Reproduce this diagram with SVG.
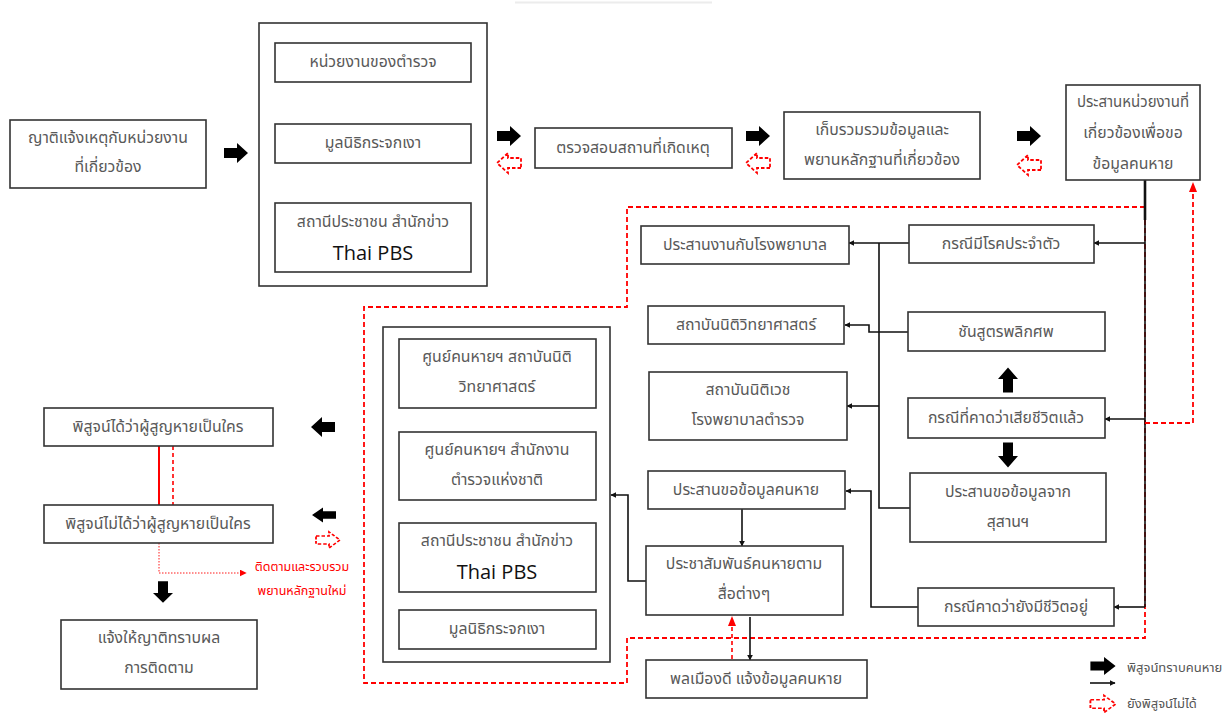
<svg xmlns="http://www.w3.org/2000/svg" width="1229" height="720" viewBox="0 0 1229 720">
<style>
.b{fill:#fff;stroke:#333;stroke-width:1.6}
.t{font-family:"Noto Sans Thai","Noto Sans","DejaVu Sans",sans-serif;font-size:15.8px;fill:#595959;text-anchor:middle;dominant-baseline:central}
.en{font-family:"Open Sans","Noto Sans",sans-serif;font-size:20px;fill:#111;text-anchor:middle;dominant-baseline:central}
.rt{font-family:"Noto Sans Thai","Noto Sans",sans-serif;font-size:12.5px;fill:#f00;text-anchor:middle;dominant-baseline:central}
.lg{font-family:"Noto Sans Thai","Noto Sans",sans-serif;font-size:13px;fill:#555;dominant-baseline:central}
.fk{fill:#000}
.fr{fill:#fff;stroke:#f00;stroke-width:1.8;stroke-dasharray:3.5 2}
.l{fill:none;stroke:#111;stroke-width:1.6}
.la{fill:none;stroke:#111;stroke-width:1.6;marker-end:url(#ah)}
.rd{fill:none;stroke:#f00;stroke-width:1.8;stroke-dasharray:5 3}
</style>
<defs>
<path id="fa" d="M-12,-5 H1 V-10 L12,0 L1,10 V5 H-12 Z"/>
<marker id="ah" viewBox="0 0 10 10" refX="9" refY="5" markerWidth="6" markerHeight="6" orient="auto" markerUnits="userSpaceOnUse"><path d="M0,0 L10,5 L0,10 Z" fill="#111"/></marker>
<marker id="ahr" viewBox="0 0 10 10" refX="9" refY="5" markerWidth="7" markerHeight="7" orient="auto" markerUnits="userSpaceOnUse"><path d="M0,0 L10,5 L0,10 Z" fill="#f00"/></marker>
</defs>
<rect width="1229" height="720" fill="#fff"/>
<line x1="515" y1="2.5" x2="712" y2="2.5" stroke="#ececec" stroke-width="2"/>

<g id="connectors">
<line class="l" x1="374" y1="82" x2="374" y2="124"/>
<line class="l" x1="374" y1="163" x2="374" y2="203"/>
<path class="rd" d="M1145,207 H627 V307 H364 V683 H627 V638 H1145 Z"/>
<line x1="1145" y1="180" x2="1145" y2="220" stroke="#111" stroke-width="2.6"/>
<line class="l" x1="1145" y1="220" x2="1145" y2="607"/>
<path class="rd" d="M1145,423 H1193 V190" />
<path d="M1193,182 L1189,192 L1197,192 Z" fill="#f00"/>
<line class="la" x1="1145" y1="243" x2="1094" y2="243" stroke-width="2.4"/>
<line class="la" x1="1145" y1="419" x2="1105" y2="419"/>
<line class="la" x1="1145" y1="607" x2="1114" y2="607"/>
<line class="la" x1="909" y1="243" x2="849" y2="243"/>
<path class="l" d="M879,243 V508 H910"/>
<line class="la" x1="879" y1="406" x2="847" y2="406"/>
<path class="la" d="M908,332 H869 V325 H845"/>
<path class="la" d="M918,607 H871 V491 H846"/>
<line class="la" x1="742" y1="509" x2="742" y2="546"/>
<path class="la" d="M646,581 H628 V495 H611"/>
<line class="la" x1="750" y1="617" x2="750" y2="660"/>
<line x1="732" y1="659" x2="732" y2="624" stroke="#f00" stroke-width="1.6" stroke-dasharray="4 3"/>
<path d="M732,616 L728,626 L736,626 Z" fill="#f00"/>
<line x1="159" y1="446" x2="159" y2="505" stroke="#f00" stroke-width="2"/>
<line x1="173" y1="446" x2="173" y2="505" stroke="#f00" stroke-width="1.6" stroke-dasharray="4 3"/>
<path d="M159,543 V573 H246" fill="none" stroke="#f00" stroke-width="0.9" stroke-dasharray="1.5 1.5" marker-end="url(#ahr)"/>
</g>

<g id="fat-arrows">
<use href="#fa" class="fk" transform="translate(236,153)"/>
<use href="#fa" class="fk" transform="translate(509,136)"/>
<use href="#fa" class="fr" transform="translate(509,163) rotate(180)"/>
<use href="#fa" class="fk" transform="translate(758,136)"/>
<use href="#fa" class="fr" transform="translate(758,163) rotate(180)"/>
<use href="#fa" class="fk" transform="translate(1029,136)"/>
<use href="#fa" class="fr" transform="translate(1029,165) rotate(180)"/>
<use href="#fa" class="fk" transform="translate(1008,380) rotate(-90) scale(1.05,1)"/>
<use href="#fa" class="fk" transform="translate(1008,455) rotate(90) scale(1.05,1)"/>
<use href="#fa" class="fk" transform="translate(323,427) rotate(180)"/>
<use href="#fa" class="fk" transform="translate(324,515) rotate(180) scale(1,0.75)"/>
<use href="#fa" class="fr" transform="translate(328,540) scale(1,0.8)"/>
<use href="#fa" class="fk" transform="translate(163,592) rotate(90) scale(0.9,1)"/>
</g>

<g id="n1"><rect class="b" x="10" y="120" width="196" height="68"/><text class="t" x="108" y="138">ญาติแจ้งเหตุกับหน่วยงาน</text><text class="t" x="108" y="167">ที่เกี่ยวข้อง</text></g>

<g id="n2"><rect class="b" x="259" y="23" width="228" height="263"/></g>
<g id="n2a"><rect class="b" x="275" y="43" width="196" height="39"/><text class="t" x="373" y="62">หน่วยงานของตำรวจ</text></g>
<g id="n2b"><rect class="b" x="275" y="124" width="196" height="39"/><text class="t" x="373" y="143">มูลนิธิกระจกเงา</text></g>
<g id="n2c"><rect class="b" x="275" y="203" width="196" height="69"/><text class="t" x="373" y="222">สถานีประชาชน สำนักข่าว</text><text class="en" x="373" y="252">Thai PBS</text></g>

<g id="n3"><rect class="b" x="535" y="128" width="197" height="40"/><text class="t" x="633" y="148">ตรวจสอบสถานที่เกิดเหตุ</text></g>
<g id="n4"><rect class="b" x="784" y="112" width="196" height="67"/><text class="t" x="882" y="130">เก็บรวมรวมข้อมูลและ</text><text class="t" x="882" y="160">พยานหลักฐานที่เกี่ยวข้อง</text></g>
<g id="n5"><rect class="b" x="1066" y="85" width="134" height="95"/><text class="t" x="1133" y="102" style="font-size:15px">ประสานหน่วยงานที่</text><text class="t" x="1133" y="133">เกี่ยวข้องเพื่อขอ</text><text class="t" x="1133" y="164">ข้อมูลคนหาย</text></g>

<g id="n6"><rect class="b" x="909" y="225" width="185" height="38"/><text class="t" x="1001" y="244">กรณีมีโรคประจำตัว</text></g>
<g id="n7"><rect class="b" x="641" y="226" width="208" height="38"/><text class="t" x="745" y="245">ประสานงานกับโรงพยาบาล</text></g>
<g id="n8"><rect class="b" x="648" y="306" width="196" height="38"/><text class="t" x="746" y="325">สถาบันนิติวิทยาศาสตร์</text></g>
<g id="n9"><rect class="b" x="908" y="312" width="197" height="39"/><text class="t" x="1006" y="332">ชันสูตรพลิกศพ</text></g>
<g id="n10"><rect class="b" x="649" y="372" width="198" height="68"/><text class="t" x="748" y="390">สถาบันนิติเวช</text><text class="t" x="748" y="420">โรงพยาบาลตำรวจ</text></g>
<g id="n11"><rect class="b" x="908" y="398" width="197" height="40"/><text class="t" x="1006" y="418">กรณีที่คาดว่าเสียชีวิตแล้ว</text></g>
<g id="n12"><rect class="b" x="910" y="473" width="196" height="69"/><text class="t" x="1008" y="492">ประสานขอข้อมูลจาก</text><text class="t" x="1008" y="522">สุสานฯ</text></g>
<g id="n13"><rect class="b" x="648" y="471" width="197" height="38"/><text class="t" x="746" y="490">ประสานขอข้อมูลคนหาย</text></g>
<g id="n14"><rect class="b" x="646" y="546" width="197" height="69"/><text class="t" x="744" y="564">ประชาสัมพันธ์คนหายตาม</text><text class="t" x="744" y="594">สื่อต่างๆ</text></g>
<g id="n15"><rect class="b" x="918" y="588" width="196" height="38"/><text class="t" x="1016" y="607">กรณีคาดว่ายังมีชีวิตอยู่</text></g>
<g id="n16"><rect class="b" x="646" y="660" width="221" height="38"/><text class="t" x="756" y="679">พลเมืองดี แจ้งข้อมูลคนหาย</text></g>

<g id="n17"><rect class="b" x="383" y="327" width="227" height="335"/></g>
<g id="n17a"><rect class="b" x="399" y="339" width="197" height="69"/><text class="t" x="497" y="357">ศูนย์คนหายฯ สถาบันนิติ</text><text class="t" x="497" y="387">วิทยาศาสตร์</text></g>
<g id="n17b"><rect class="b" x="399" y="432" width="197" height="68"/><text class="t" x="497" y="450">ศูนย์คนหายฯ สำนักงาน</text><text class="t" x="497" y="480">ตำรวจแห่งชาติ</text></g>
<g id="n17c"><rect class="b" x="399" y="523" width="197" height="69"/><text class="t" x="497" y="541">สถานีประชาชน สำนักข่าว</text><text class="en" x="497" y="571">Thai PBS</text></g>
<g id="n17d"><rect class="b" x="399" y="610" width="197" height="39"/><text class="t" x="497" y="629">มูลนิธิกระจกเงา</text></g>

<g id="n18"><rect class="b" x="44" y="408" width="229" height="38"/><text class="t" x="158" y="427">พิสูจน์ได้ว่าผู้สูญหายเป็นใคร</text></g>
<g id="n19"><rect class="b" x="44" y="505" width="229" height="38"/><text class="t" x="158" y="524">พิสูจน์ไม่ได้ว่าผู้สูญหายเป็นใคร</text></g>
<g id="n20"><rect class="b" x="61" y="620" width="196" height="69"/><text class="t" x="159" y="638">แจ้งให้ญาติทราบผล</text><text class="t" x="159" y="668">การติดตาม</text></g>
<g id="note"><text class="rt" x="302" y="567">ติดตามและรวบรวม</text><text class="rt" x="302" y="591">พยานหลักฐานใหม่</text></g>

<g id="legend">
<use href="#fa" class="fk" transform="translate(1103,666) scale(1.05,0.9)"/>
<line x1="1090" y1="683" x2="1115" y2="683" stroke="#111" stroke-width="1.6" marker-end="url(#ah)"/>
<use href="#fa" class="fr" transform="translate(1103,704) scale(1.05,0.85)"/>
<text class="lg" x="1127" y="668">พิสูจน์ทราบคนหาย</text>
<text class="lg" x="1127" y="704">ยังพิสูจน์ไม่ได้</text>
</g>
</svg>
